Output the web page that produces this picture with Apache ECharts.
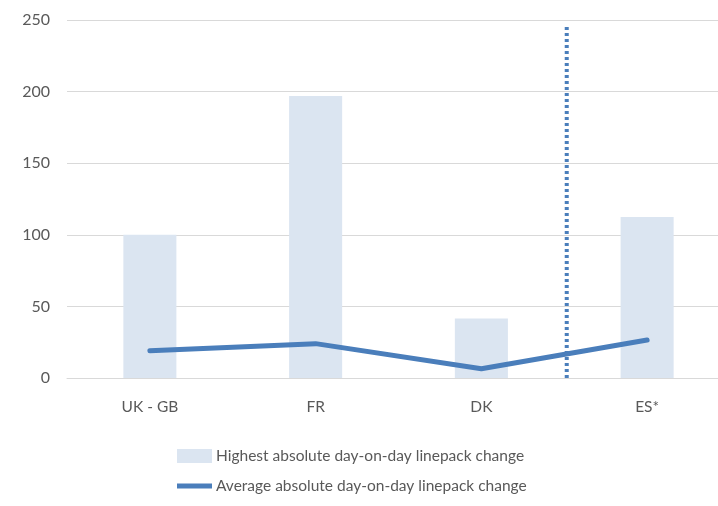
<!DOCTYPE html>
<html>
<head>
<meta charset="utf-8">
<script src="https://cdn.jsdelivr.net/npm/echarts@6/dist/echarts.min.js"></script>
<style>
  html, body { margin: 0; padding: 0; background: #fff; }
  #chart { width: 718px; height: 506px; }
</style>
</head>
<body>
<div id="chart"></div>
<script>
// categories
var countries = ["UK - GB", "FR", "DK", "ES*"];
// highest absolute day-on-day change (bars)
var highestChange = [100, 197, 41.5, 112.5];
// average absolute day-on-day change (line)
var averageChange = [19, 24, 6.5, 26.5];
// dotted separator between DK and ES* (position on 0..4 category scale, y range)
var dividerX = [3.015, 3.015];
var dividerY = [0, 247];

var font = "Lato, sans-serif";
var chart = echarts.init(document.getElementById("chart"));

var option = {
  animation: false,
  textStyle: { fontFamily: font },
  grid: {
    left: 67,
    top: 20,
    width: 663,
    bottom: 128,
    containLabel: false,
    outerBoundsMode: "none",
  },
  legend: [
    {
      left: 177,
      top: 448,
      padding: 0,
      itemWidth: 35,
      itemHeight: 14,
      itemGap: 0,
      textStyle: { color: "#595959", fontSize: 15.5, fontFamily: font, padding: [0, 0, 0, -1] },
      data: [{ name: "Highest absolute day-on-day linepack change", icon: "rect" }],
    },
    {
      left: 177,
      top: 478,
      padding: 0,
      itemWidth: 35,
      itemHeight: 5,
      itemGap: 0,
      textStyle: { color: "#595959", fontSize: 15.5, fontFamily: font, padding: [0, 0, 0, -1] },
      data: [{ name: "Average absolute day-on-day linepack change", icon: "rect" }],
    },
  ],
  xAxis: [
    {
      type: "category",
      data: countries,
      axisLine: { lineStyle: { color: "#d9d9d9", width: 1 } },
      axisTick: { show: false },
      axisLabel: { color: "#595959", fontSize: 15.5, margin: 21 },
    },
    {
      type: "value",
      min: 0,
      max: 4,
      show: false,
    },
  ],
  yAxis: {
    type: "value",
    min: 0,
    max: 250,
    interval: 50,
    axisLine: { show: false },
    axisTick: { show: false },
    axisLabel: { color: "#595959", fontSize: 16, margin: 17 },
    splitLine: { lineStyle: { color: "#d9d9d9", width: 1 } },
  },
  series: [
    {
      name: "Highest absolute day-on-day linepack change",
      type: "bar",
      data: highestChange,
      barWidth: "32%",
      itemStyle: { color: "#dbe5f1" },
    },
    {
      name: "Average absolute day-on-day linepack change",
      type: "line",
      data: averageChange,
      symbol: "none",
      lineStyle: { color: "#4a7ebb", width: 5, cap: "round" },
      itemStyle: { color: "#4a7ebb" },
      z: 3,
    },
    {
      name: "divider",
      type: "line",
      xAxisIndex: 1,
      data: dividerX.map(function (x, i) { return [x, dividerY[i]]; }),
      symbol: "none",
      lineStyle: { color: "#4a7ebb", width: 4, type: [3, 3] },
      z: 4,
    },
  ],
};

chart.setOption(option);
</script>
</body>
</html>
